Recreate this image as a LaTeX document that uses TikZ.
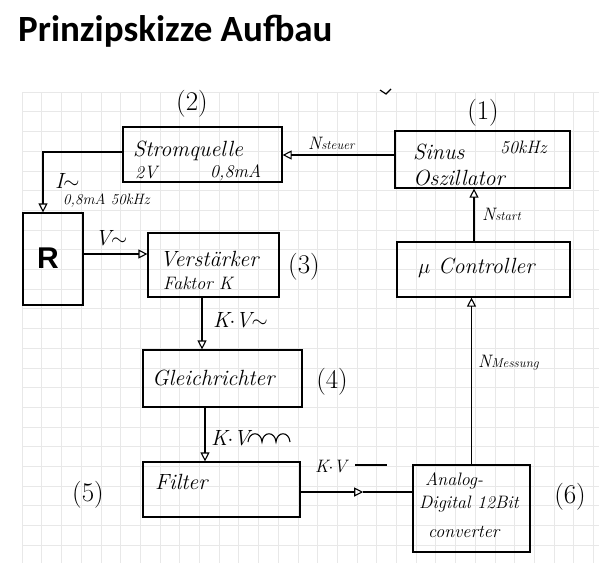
\documentclass[tikz,border=0pt]{standalone}
\usepackage{fontspec}
\usetikzlibrary{arrows.meta,calc}
\newfontfamily\titlefont{Carlito}
\newfontfamily\rfont{Liberation Sans}
\begin{document}
\begin{tikzpicture}[x=1pt,y=-1pt,
  gridline/.style={draw=black!9,line width=0.5pt},
  box/.style={draw,line width=1.2pt,inner sep=0pt},
  hw/.style={font=\fontsize{22}{24}\selectfont\itshape,inner sep=0pt,anchor=west},
  hwm/.style={font=\fontsize{18}{20}\selectfont\itshape,inner sep=0pt,anchor=west},
  hws/.style={font=\fontsize{15}{17}\selectfont\itshape,inner sep=0pt,anchor=west},
  num/.style={font=\fontsize{27}{29}\selectfont,inner sep=0pt},
  conn/.style={line width=1.1pt},
  arr/.style={line width=1.1pt,-{Triangle[open,length=9pt,width=9pt]}}]
\useasboundingbox (0,0) rectangle (599,563);
% grid paper
\foreach \i in {0,...,29} \draw[gridline] ({22+19.7*\i},92) -- ({22+19.7*\i},563);
\foreach \j in {0,...,23} \draw[gridline] (22,{92+19.7*\j}) -- (599,{92+19.7*\j});
% title
\node[anchor=base west,inner sep=0pt,font=\titlefont\bfseries\fontsize{37}{39}\selectfont] (title) at (18,41) {Prinzipskizze Aufbau};
% boxes
\node[box,minimum width=159pt,minimum height=55pt] (strom) at (202.5,154.5) {};
\node[box,minimum width=175pt,minimum height=57pt] (sinus) at (482.5,159.5) {};
\node[box,minimum width=60pt,minimum height=92pt] (R) at (53,259) {};
\node[box,minimum width=131pt,minimum height=64pt] (verst) at (213.5,265) {};
\node[box,minimum width=159pt,minimum height=57pt] (gleich) at (222.5,378.5) {};
\node[box,minimum width=157pt,minimum height=55pt] (filter) at (221.5,489.5) {};
\node[box,minimum width=117pt,minimum height=87pt] (adc) at (471.5,508.5) {};
\node[box,minimum width=173pt,minimum height=55pt] (mu) at (483.5,269.5) {};
% box texts
\node[hw] (tstrom) at (133,151) {Stromquelle};
\node[hwm] (t2v) at (135,173) {2V};
\node[hwm] (t08) at (210,173) {0,8mA};
\node[hw] (tsin) at (413,152) {Sinus};
\node[hwm] (t50) at (500,147) {50kHz};
\node[hw] (tosz) at (413,178) {Oszillator};
\node[font=\rfont\bfseries\fontsize{30}{30}\selectfont,inner sep=0pt] (tR) at (48,258) {R};
\node[hw] (tv1) at (160,259) {Verstärker};
\node[hwm] (tv2) at (163,283) {Faktor K};
\node[hw] (tgl) at (152,378) {Gleichrichter};
\node[hw] (tfi) at (155,482) {Filter};
\node[hwm] (ta1) at (425,481) {Analog-};
\node[hwm] (ta2) at (419,504) {Digital 12Bit};
\node[hwm] (ta3) at (428,532) {converter};
\node[hw] (tmu) at (418,268) {$\mu$ Controller};
% numbers
\node[num] (n1) at (483,113) {(1)};
\node[num] (n2) at (192,104) {(2)};
\node[num] (n3) at (304,267) {(3)};
\node[num] (n4) at (332,382) {(4)};
\node[num] (n5) at (88,495) {(5)};
\node[num] (n6) at (570,497) {(6)};
% connectors
\coordinate (s1) at ([yshift=4.5pt]sinus.west);
\draw[arr] (s1) -- (s1 -| strom.east);
\coordinate (s2) at ([yshift=2.5pt]strom.west);
\coordinate (r1) at ([xshift=-10pt]R.north);
\draw[arr] (s2) -| (r1);
\coordinate (r2) at ([yshift=5pt]R.east);
\draw[arr] (r2) -- (r2 -| verst.west);
\coordinate (v1) at ([xshift=-11.5pt]verst.south);
\draw[arr] (v1) -- (v1 |- gleich.north);
\coordinate (g1) at ([xshift=-17.5pt]gleich.south);
\draw[arr] (g1) -- (g1 |- filter.north);
\coordinate (f1) at ([yshift=-2.5pt]filter.east);
\coordinate (f2) at (f1 -| adc.west);
\coordinate (fm) at ($(f1)!0.56!(f2)$);
\draw[arr] (f1) -- (fm);
\draw[conn] (fm) -- (f2);
\draw[arr] (adc.north) -- (adc.north |- mu.south);
\coordinate (m1) at ([xshift=-9.5pt]mu.north);
\draw[arr] (m1) -- (m1 |- sinus.south);
% connector labels
\node[hwm] (lst) at (308,143) {N{\fontsize{13}{15}\selectfont steuer}};
\node[hw] (lI) at (55,181) {I$\sim$};
\node[hws] (lI2) at (63,201) {0,8mA 50kHz};
\node[hw] (lV) at (95,238) {V$\sim$};
\node[hw] (lkv1) at (213,320) {K$\cdot$V$\sim$};
\node[hw] (lkv2) at (211,438) {K$\cdot$V};
\draw[conn] (248,442) .. controls (249,431) and (261,431) .. (262,442)
  .. controls (263,431) and (275,431) .. (276,442)
  .. controls (277,431) and (289,431) .. (290,442);
\node[hwm] (lkv3) at (315,467) {K$\cdot$V};
\draw[conn] (355,465) -- (387,465);
\node[hwm] (lme) at (478,363) {N{\fontsize{13}{15}\selectfont Messung}};
\node[hwm] (lsta) at (482,214) {N{\fontsize{13}{15}\selectfont start}};
% stray pen mark
\draw[line width=1.2pt] (380,90) -- (386,94) -- (391,89);
\end{tikzpicture}
\end{document}
